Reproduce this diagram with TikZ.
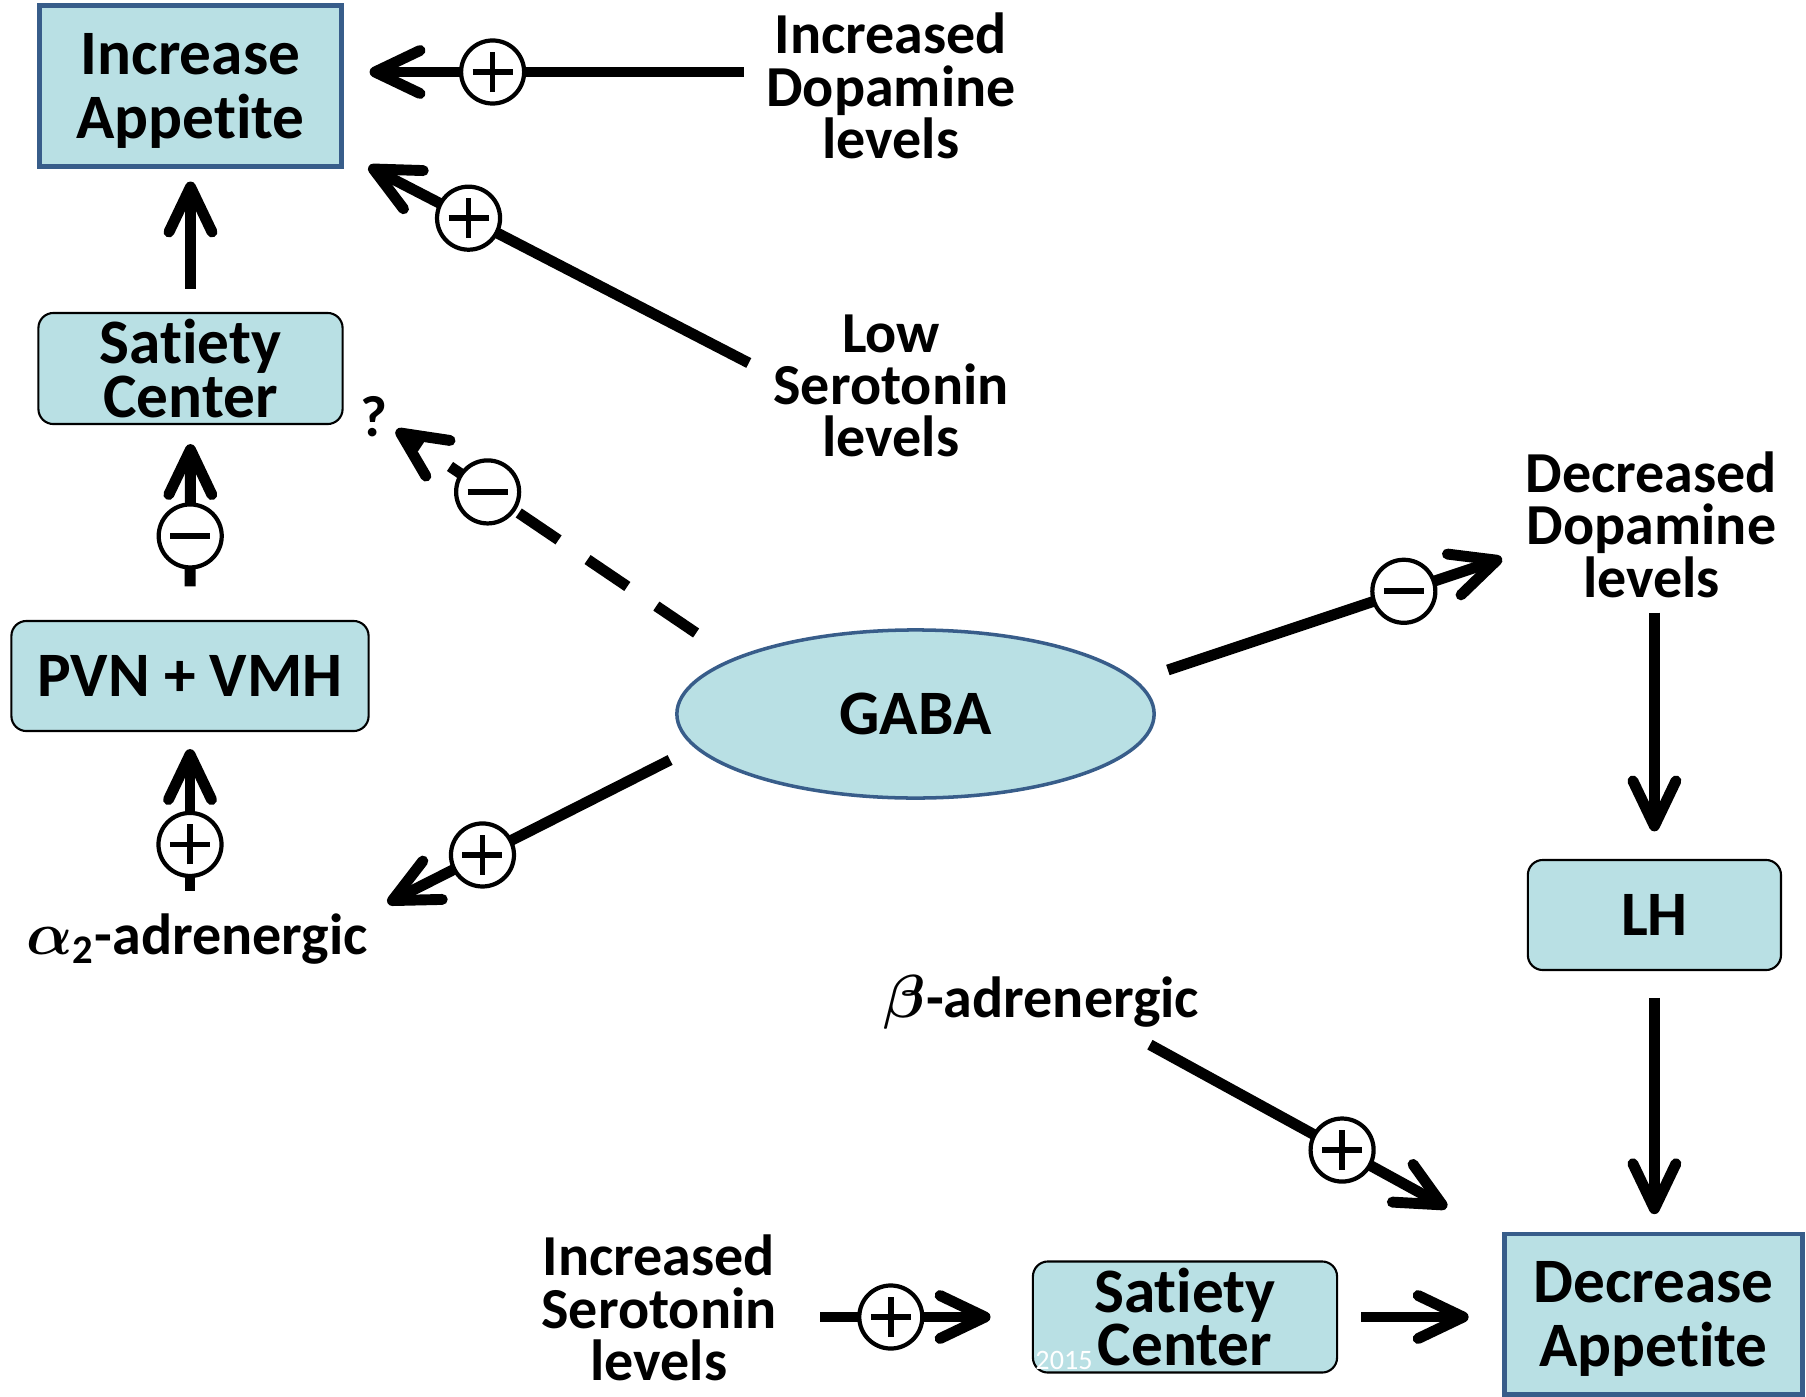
\documentclass[tikz,border=0pt]{standalone}
\usepackage{fontspec}
\setmainfont{Carlito}[Ligatures={NoCommon}]
\usepackage{tikz}
\usetikzlibrary{arrows.meta,shapes.geometric}

\definecolor{boxfill}{RGB}{185,224,228}
\definecolor{boxline}{RGB}{56,93,138}

\begin{document}
\begin{tikzpicture}[x=0.01cm, y=-0.01cm,
    arr/.style={-{Straight Barb[length=0.45cm, width=0.43cm, round]}, line width=3.1pt},
    bigbox/.style={rectangle, draw=boxline, line width=1.4pt, fill=boxfill, minimum width=3.01cm, minimum height=1.61cm, align=center, inner sep=0pt, text depth=0pt, font=\fontsize{18}{18.3}\selectfont\bfseries},
    smallbox/.style={rectangle, draw, line width=0.6pt, rounded corners=0.15cm, fill=boxfill, minimum width=3.04cm, minimum height=1.11cm, align=center, inner sep=0pt, font=\fontsize{18}{15.2}\selectfont\bfseries},
    hub/.style={ellipse, draw=boxline, line width=1pt, fill=boxfill, minimum width=4.77cm, minimum height=1.68cm, font=\fontsize{18}{18}\selectfont\bfseries},
    txt/.style={align=center, inner sep=0pt, font=\fontsize{16.5}{14.9}\selectfont\bfseries},
    signcirc/.style={circle, draw, solid, fill=white, line width=1.2pt, minimum size=0.63cm, inner sep=0pt},
    signbar/.style={-, solid, line width=1.6pt, shorten <=0pt, shorten >=0pt},
    posmark/.style={signcirc, path picture={\draw[signbar] ([xshift=-0.2cm]path picture bounding box.center) -- ([xshift=0.2cm]path picture bounding box.center) ([yshift=-0.2cm]path picture bounding box.center) -- ([yshift=0.2cm]path picture bounding box.center);}},
    negmark/.style={signcirc, path picture={\draw[signbar] ([xshift=-0.2cm]path picture bounding box.center) -- ([xshift=0.2cm]path picture bounding box.center);}}
]
    \useasboundingbox (0,0) rectangle (1806,1397);

    % Boxes and the GABA ellipse
    \node[bigbox] (incapp) at (190.5,86) {Increase\\Appetite};
    \node[smallbox] (satup) at (190.5,368.5) {Satiety\\Center};
    \node[smallbox, minimum width=3.57cm, minimum height=1.10cm] (pvn) at (190,676) {PVN + VMH};
    \node[hub] (gaba) at (915.5,714) {GABA};
    \node[smallbox, minimum width=2.53cm, minimum height=1.10cm] (lh) at (1654.4,915) {LH};
    \node[bigbox, minimum width=2.97cm, minimum height=1.60cm] (decapp) at (1653.5,1314) {Decrease\\Appetite};
    \node[smallbox] (satlow) at (1185,1317) {Satiety\\Center};

    % Free labels
    \node[txt] (incdopa) at (891,86) {Increased\\Dopamine\\levels};
    \node[txt] (lowsero) at (891,386) {Low\\Serotonin\\levels};
    \node[txt] (decdopa) at (1651.5,524.5) {Decreased\\Dopamine\\levels};
    \node[txt] (incsero) at (659,1308) {Increased\\Serotonin\\levels};
    \node[txt] (alpha) at (197,939) {{\boldmath$\alpha$}\textsubscript{2}-adrenergic};
    \node[txt] (beta) at (1041.6,1002) {{\boldmath$\beta$}-adrenergic};
    \node[txt] (query) at (374,417) {?};
    \node[font=\fontsize{8}{8}\selectfont, text=white, inner sep=0pt] (year) at (1064,1360) {2015};

    % Left column
    \draw[arr] ([shift={(-22,-14)}]incdopa.west) -- node[posmark, pos=0.671] (s1) {} ([shift={(26,-14)}]incapp.east);
    \draw[arr] ([shift={(-24,-23)}]lowsero.west) -- node[posmark, pos=0.737] (s2) {} ([shift={(25,-2.5)}]incapp.south east);
    \draw[arr, shorten <=0.23cm, shorten >=0.125cm] (satup.north) -- (incapp.south);
    \draw[arr, shorten <=0.335cm, shorten >=0.19cm] (pvn.north) -- node[negmark, pos=0.431] (s3) {} (satup.south);
    \draw[arr, shorten <=0.224cm, shorten >=0.17cm] (alpha.north -| pvn.south) -- node[posmark, pos=0.379] (s4) {} (pvn.south);

    % Out of GABA
    \draw[arr] ([shift={(-5,46)}]gaba.west) -- node[posmark, pos=0.664] (s5) {} ([shift={(19,-10)}]alpha.north east);
    \draw[arr, dash pattern=on 0.48cm off 0.35cm] ([shift={(21,-81)}]gaba.west) -- node[negmark, pos=0.695] (s6) {} ([shift={(8,13)}]query.east);
    \draw[arr] ([shift={(12,-44)}]gaba.east) -- node[negmark, pos=0.706] (s7) {} ([shift={(-23,34)}]decdopa.west);

    % Right column
    \draw[arr, shorten <=0.145cm, shorten >=0.275cm] (lh.north |- decdopa.south) -- (lh.north);
    \draw[arr, shorten <=0.267cm, shorten >=0.173cm] (lh.south) -- (lh.south |- decapp.north);
    \draw[arr] ([shift={(-50,15)}]beta.south east) -- node[posmark, pos=0.647] (s8) {} ([shift={(-55.5,-24)}]decapp.north west);

    % Bottom row
    \draw[arr, shorten <=0.428cm, shorten >=0.413cm] (incsero.east |- satlow.west) -- node[posmark, pos=0.446] (s9) {} (satlow.west);
    \draw[arr, shorten <=0.23cm, shorten >=0.338cm] (satlow.east) -- (satlow.east -| decapp.west);
\end{tikzpicture}
\end{document}
